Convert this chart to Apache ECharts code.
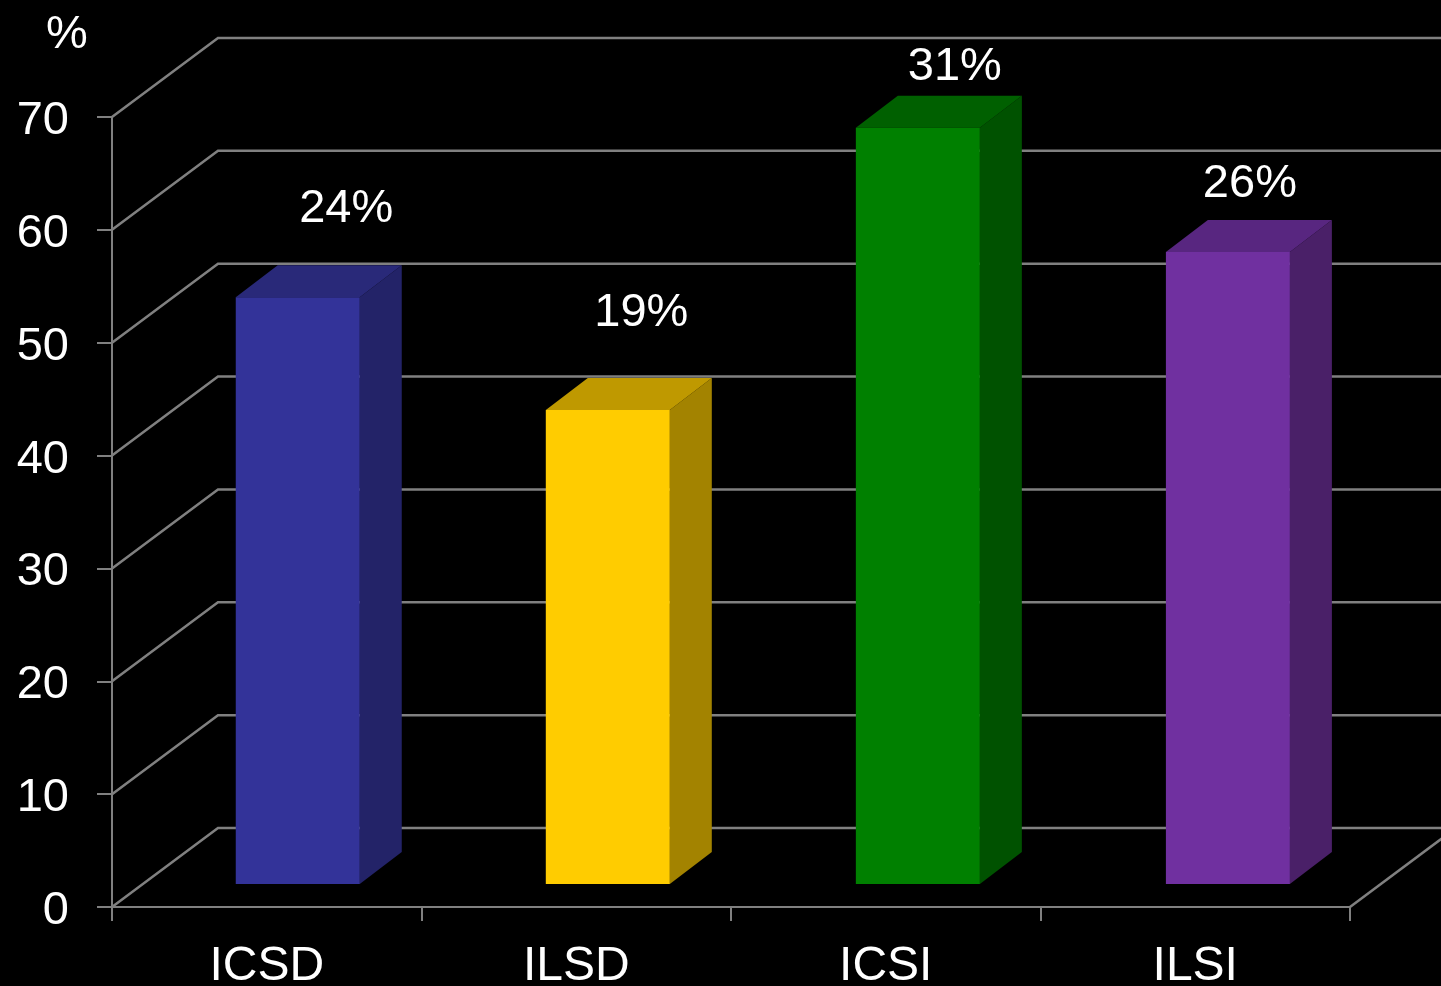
<!DOCTYPE html>
<html>
<head>
<meta charset="utf-8">
<style>html,body{margin:0;padding:0;background:#000;width:100%;height:100%;overflow:hidden}#c{width:1441px;height:986px}</style>
<script src="https://cdn.jsdelivr.net/npm/echarts@6/dist/echarts.min.js"></script>
</head>
<body>
<div id="c"></div>
<script>
const categories = ['ICSD', 'ILSD', 'ICSI', 'ILSI'];
const barValues = [52, 42, 67, 56];
const shareLabels = ['24%', '19%', '31%', '26%'];
const yTicks = [0, 10, 20, 30, 40, 50, 60, 70];
const frontColors = ['#333399', '#FFCC00', '#008000', '#7030A0'];
const sideColors = ['#232368', '#A38300', '#005200', '#4A2068'];
const topColors = ['#292979', '#BF9900', '#006000', '#582680'];

const FAMILY = '"Liberation Sans", Arial, sans-serif';
const FONT = '47px ' + FAMILY;
const LINE = '#808080';
const LINE_W = 2.5;
const AXIS_W = 2;
const WALL = [106, -79];      // depth of the chart box
const FLOOR = [31, -23];      // where bars stand on the floor
const DEPTH = [42, -32];      // depth of a bar
const BAR_W = 124;
const BAR_DRIFT = 0.55;       // bars sit on a slightly wider pitch than the axis ticks
const LABEL_OFF = [[48.5, -88], [33.5, -97], [37, -61], [22, -67.5]];

const chart = echarts.init(document.getElementById('c'), null, {renderer: 'canvas'});

function renderWall(params, api) {
  const cs = params.coordSys;
  const y = api.coord([0, api.value(1)])[1];
  const x0 = cs.x, x1 = cs.x + cs.width;
  const shape = {points: [[x0, y], [x0 + WALL[0], y + WALL[1]], [x1 + WALL[0], y + WALL[1]]]};
  const children = [{type: 'polyline', shape, style: {stroke: LINE, lineWidth: LINE_W, fill: null}}];
  if (api.value(1) === 0) {
    children.push({type: 'line', shape: {x1, y1: y, x2: x1 + WALL[0], y2: y + WALL[1]},
      style: {stroke: LINE, lineWidth: LINE_W}});
  }
  return {type: 'group', children};
}

function renderBar(params, api) {
  const i = params.dataIndex;
  const base = api.coord([i, 0]);
  const top = api.coord([i, api.value(1)]);
  const xl = base[0] + FLOOR[0] - BAR_W / 2 + i * BAR_DRIFT, xr = xl + BAR_W;
  const yb = base[1] + FLOOR[1], yt = top[1] + FLOOR[1];
  const dx = DEPTH[0], dy = DEPTH[1];
  return {
    type: 'group',
    children: [
      {type: 'polygon', shape: {points: [[xr, yb], [xr + dx, yb + dy], [xr + dx, yt + dy], [xr, yt]]}, style: {fill: sideColors[i]}},
      {type: 'polygon', shape: {points: [[xl, yt], [xl + dx, yt + dy], [xr + dx, yt + dy], [xr, yt]]}, style: {fill: topColors[i]}},
      {type: 'rect', shape: {x: xl, y: yt, width: BAR_W, height: yb - yt}, style: {fill: frontColors[i]}},
      {type: 'text', style: {
        text: shareLabels[i], x: (xl + xr) / 2 + LABEL_OFF[i][0], y: yt + LABEL_OFF[i][1],
        fill: '#fff', font: FONT, align: 'center', verticalAlign: 'middle'}}
    ]
  };
}

chart.setOption({
  backgroundColor: '#000',
  animation: false,
  title: {text: '%', left: 41, top: 7, textStyle: {color: '#fff', fontSize: 47, fontWeight: 'normal', fontFamily: FAMILY}},
  grid: {left: 112, right: 91, top: 117, bottom: 79, containLabel: false, outerBoundsMode: 'none'},
  xAxis: {
    type: 'category', data: categories,
    axisLine: {lineStyle: {color: LINE, width: AXIS_W}},
    axisTick: {show: true, alignWithLabel: false, length: 14, lineStyle: {color: LINE, width: AXIS_W}},
    axisLabel: {color: '#fff', fontSize: 48, margin: 36, interval: 0, fontFamily: FAMILY},
    splitLine: {show: false}
  },
  yAxis: {
    type: 'value', min: 0, max: 70, interval: 10,
    axisLine: {show: true, lineStyle: {color: LINE, width: AXIS_W}},
    axisTick: {show: true, length: 15, lineStyle: {color: LINE, width: AXIS_W}},
    axisLabel: {
      margin: 43, formatter: '{t|{value}}',
      rich: {t: {color: '#fff', fontSize: 47, fontFamily: FAMILY, padding: [8, 0, 0, 0]}}
    },
    splitLine: {show: false}
  },
  series: [
    {type: 'custom', name: 'walls', z: 1, clip: false, silent: true, renderItem: renderWall,
      data: yTicks.map(v => [0, v])},
    {type: 'custom', name: 'share', z: 3, clip: false, silent: true, renderItem: renderBar,
      data: barValues.map((v, i) => [i, v])}
  ]
});
</script>
</body>
</html>
